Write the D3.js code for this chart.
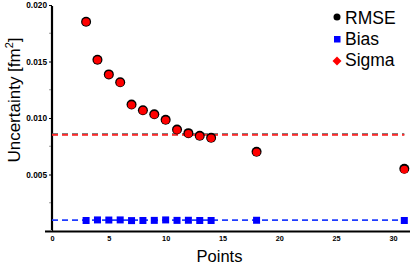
<!DOCTYPE html>
<html>
<head>
<meta charset="utf-8">
<script src="https://cdn.jsdelivr.net/npm/d3@7"></script>
<style>
  body { margin: 0; background: #fff; }
  text { font-family: "Liberation Sans", Arial, sans-serif; }
</style>
</head>
<body>
<script>
let points = [3, 4, 5, 6, 7, 8, 9, 10, 11, 12, 13, 14, 18, 31]
let sigma = [0.0185, 0.01513, 0.01383, 0.01313, 0.01115, 0.01065, 0.01029, 0.0098, 0.00894, 0.00861, 0.00838, 0.0082, 0.00696, 0.00543]
let rmse = [0.01852, 0.01516, 0.01386, 0.01316, 0.01119, 0.01069, 0.01033, 0.00985, 0.00899, 0.00866, 0.00843, 0.00825, 0.00702, 0.00551]
let bias = [0.00093, 0.00098, 0.00097, 0.00098, 0.00092, 0.00093, 0.00094, 0.00098, 0.00094, 0.00095, 0.00093, 0.00093, 0.00095, 0.00093]
let rmse_mean = 0.00856
let sigma_mean = 0.00851
let bias_mean = 0.00097
let x_ticks = [0, 5, 10, 15, 20, 25, 30]
let y_ticks = [0.005, 0.010, 0.015, 0.020]
let y_minor = [0.0025, 0.0075, 0.0125, 0.0175]
let legend_names = ['RMSE', 'Bias', 'Sigma']

let width = 415
let height = 265
let m_left = 52, m_right = 410, m_top = 5, m_bottom = 231

let x = d3.scaleLinear().domain([0, 31.5]).range([m_left, m_right])
let y = d3.scaleLinear().domain([0, 0.020]).range([m_bottom, m_top])

let svg = d3.select('body').append('svg')
    .attr('width', width)
    .attr('height', height)

// minor y ticks
svg.selectAll('line.minor')
    .data(y_minor)
    .enter()
    .append('line')
    .attr('x1', m_left - 3).attr('x2', m_left)
    .attr('y1', d => y(d)).attr('y2', d => y(d))
    .attr('stroke', '#999').attr('stroke-width', 1)

let yAxis = svg.append('g')
    .attr('transform', `translate(${m_left},0)`)
    .call(d3.axisLeft(y).tickValues(y_ticks).tickFormat(d3.format('.3f')).tickSize(3).tickPadding(2))
yAxis.select('.domain').remove()
yAxis.selectAll('text').attr('font-size', 8.3).attr('font-weight', 'bold').attr('fill', '#000')

let xAxis = svg.append('g')
    .attr('transform', `translate(0,${m_bottom})`)
    .call(d3.axisBottom(x).tickValues(x_ticks).tickSize(0).tickPadding(5))
xAxis.select('.domain').remove()
xAxis.selectAll('text').attr('font-size', 7.3).attr('font-weight', 'bold').attr('fill', '#000')

// axis frame lines
svg.append('line')
    .attr('x1', m_left).attr('x2', m_left)
    .attr('y1', m_top + 1).attr('y2', m_bottom + 1)
    .attr('stroke', '#000').attr('stroke-width', 2.2)
svg.append('line')
    .attr('x1', m_left - 7).attr('x2', m_right)
    .attr('y1', m_bottom + 0.5).attr('y2', m_bottom + 0.5)
    .attr('stroke', '#000').attr('stroke-width', 2.2)
svg.append('line')
    .attr('x1', m_left - 7).attr('x2', m_left)
    .attr('y1', m_bottom - 0.5).attr('y2', m_bottom - 0.5)
    .attr('stroke', '#777').attr('stroke-width', 1)

// mean lines
let means = [
    {v: rmse_mean, color: '#555'},
    {v: sigma_mean, color: '#ff2a2a'},
    {v: bias_mean, color: '#1f3cff'}
]
svg.selectAll('line.mean')
    .data(means)
    .enter()
    .append('line')
    .attr('x1', x(0)).attr('x2', x(31))
    .attr('y1', d => y(d.v)).attr('y2', d => y(d.v))
    .attr('stroke', d => d.color)
    .attr('stroke-width', 1.8)
    .attr('stroke-dasharray', '6,4')

// bias squares
svg.selectAll('rect.bias')
    .data(points)
    .enter()
    .append('rect')
    .attr('x', (d, i) => x(d) - 3.5)
    .attr('y', (d, i) => y(bias[i]) - 3.5)
    .attr('width', 7).attr('height', 7)
    .attr('fill', '#0000ff')

// rmse black circles
svg.selectAll('circle.rmse')
    .data(points)
    .enter()
    .append('circle')
    .attr('cx', d => x(d))
    .attr('cy', (d, i) => y(rmse[i]))
    .attr('r', 5)
    .attr('fill', '#000')

// sigma red markers
svg.selectAll('circle.sigma')
    .data(points)
    .enter()
    .append('circle')
    .attr('cx', d => x(d))
    .attr('cy', (d, i) => y(sigma[i]))
    .attr('r', 3.8)
    .attr('fill', '#ff0000')

// axis titles
svg.append('text')
    .attr('x', 219.5).attr('y', 261.5)
    .attr('text-anchor', 'middle')
    .attr('font-size', 16.5)
    .text('Points')

let ylab = svg.append('text')
    .attr('transform', 'translate(19.5,100) rotate(-90)')
    .attr('text-anchor', 'middle')
    .attr('font-size', 17)
ylab.append('tspan').text('Uncertainty [fm')
ylab.append('tspan').attr('font-size', 11).attr('dy', -7).text('2')
ylab.append('tspan').attr('dy', 7).text(']')

// legend
let lg = svg.append('g').attr('transform', 'translate(337,17)')
lg.append('circle').attr('cx', 0).attr('cy', 0).attr('r', 3.5).attr('fill', '#000')
lg.append('rect').attr('x', -3).attr('y', 19).attr('width', 6.5).attr('height', 6.5).attr('fill', '#0000ff')
lg.append('path').attr('d', 'M0,39.5 L4.5,44 L0,48.5 L-4.5,44 Z').attr('fill', '#ff0000')
lg.selectAll('text')
    .data(legend_names)
    .enter()
    .append('text')
    .attr('x', 8)
    .attr('y', (d, i) => i * 21 + 7)
    .attr('font-size', 17.5)
    .text(d => d)
</script>
</body>
</html>
